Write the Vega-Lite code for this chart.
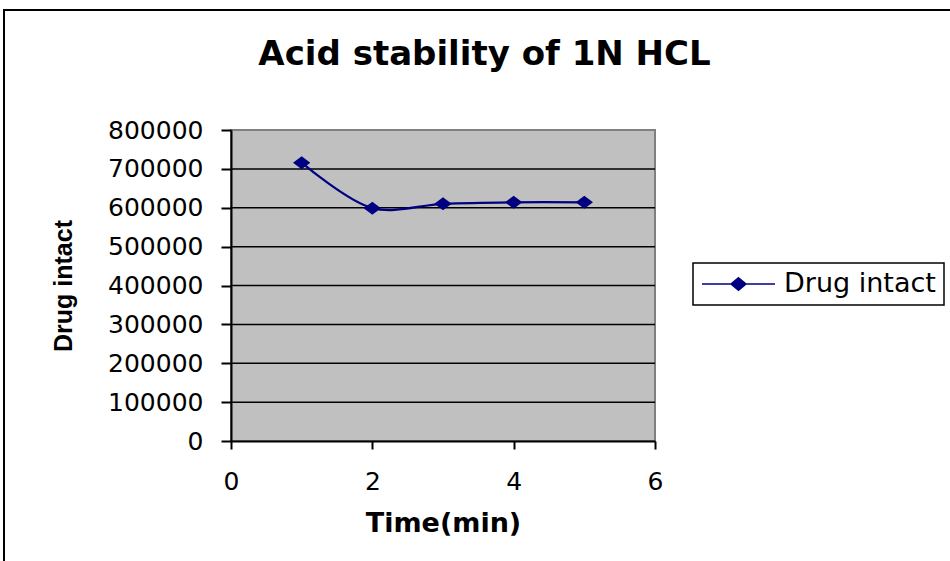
{
  "$schema": "https://vega.github.io/schema/vega-lite/v6.json",
  "width": 947,
  "height": 552,
  "autosize": {"type": "none"},
  "padding": {"left": 4, "top": 10, "right": -1, "bottom": -1},
  "background": "white",
  "config": {
    "view": {"stroke": "black", "strokeWidth": 2},
    "font": "DejaVu Sans",
    "legend": {"strokeWidth": 1.5}
  },
  "title": {
    "text": "Acid stability of 1N HCL",
    "font": "DejaVu Sans",
    "fontSize": 34,
    "fontWeight": "bold",
    "color": "black",
    "anchor": "middle",
    "offset": -62,
    "dx": 7
  },
  "datasets": {
    "series": [
      {"time": 1, "intact": 716000, "series": "Drug intact"},
      {"time": 2, "intact": 599000, "series": "Drug intact"},
      {"time": 3, "intact": 610000, "series": "Drug intact"},
      {"time": 4, "intact": 614000, "series": "Drug intact"},
      {"time": 5, "intact": 614000, "series": "Drug intact"}
    ],
    "gridlines": [
      {"level": 100000},
      {"level": 200000},
      {"level": 300000},
      {"level": 400000},
      {"level": 500000},
      {"level": 600000},
      {"level": 700000}
    ]
  },
  "layer": [
    {
      "description": "grey plotting area",
      "data": {"values": [{"panel": "plot"}]},
      "mark": {"type": "rect", "fill": "#C0C0C0", "stroke": "#808080", "strokeWidth": 2},
      "encoding": {
        "x": {
          "datum": 0,
          "type": "quantitative",
          "title": "Time(min)",
          "scale": {"domain": [0, 6], "range": [227, 651], "nice": false, "zero": false},
          "axis": {
            "orient": "bottom",
            "offset": -121,
            "values": [0, 2, 4, 6],
            "format": "d",
            "grid": false,
            "zindex": 2,
            "domainColor": "black",
            "domainWidth": 2,
            "tickColor": "black",
            "tickWidth": 2,
            "tickSize": 8,
            "labelFont": "DejaVu Sans",
            "labelFontSize": 25,
            "labelColor": "black",
            "labelPadding": 20,
            "labelFlush": false,
            "titleFont": "DejaVu Sans",
            "titleFontSize": 27,
            "titleFontWeight": "bold",
            "titleColor": "black",
            "titleBaseline": "alphabetic",
            "titleY": 90
          }
        },
        "x2": {"datum": 6},
        "y": {
          "datum": 0,
          "type": "quantitative",
          "title": "Drug intact",
          "scale": {"domain": [0, 800000], "range": [431, 120], "nice": false},
          "axis": {
            "orient": "left",
            "offset": -227,
            "values": [0, 100000, 200000, 300000, 400000, 500000, 600000, 700000, 800000],
            "format": "d",
            "grid": false,
            "zindex": 2,
            "domainColor": "black",
            "domainWidth": 2,
            "tickColor": "black",
            "tickWidth": 2,
            "tickSize": 10,
            "labelFont": "DejaVu Sans",
            "labelFontSize": 25,
            "labelColor": "black",
            "labelPadding": 18,
            "labelFlush": false,
            "titleFont": "Liberation Sans",
            "titleFontSize": 25,
            "titleFontWeight": 900,
            "titleColor": "black",
            "titleBaseline": "alphabetic",
            "titleAngle": -90,
            "titleX": -160
          }
        },
        "y2": {"datum": 800000}
      }
    },
    {
      "description": "horizontal reference lines",
      "data": {"name": "gridlines"},
      "mark": {"type": "rule", "color": "black", "strokeWidth": 1.5},
      "encoding": {
        "y": {"field": "level", "type": "quantitative", "title": "Drug intact"},
        "x": {"datum": 0, "type": "quantitative", "title": "Time(min)"},
        "x2": {"datum": 6}
      }
    },
    {
      "data": {"name": "series"},
      "mark": {"type": "line", "interpolate": "catmull-rom", "strokeWidth": 2.2},
      "encoding": {
        "x": {"field": "time", "type": "quantitative", "title": "Time(min)"},
        "y": {"field": "intact", "type": "quantitative", "title": "Drug intact"},
        "color": {
          "field": "series",
          "type": "nominal",
          "scale": {"range": ["#000080"]},
          "legend": {
            "title": null,
            "orient": "none",
            "legendX": 689,
            "legendY": 253,
            "symbolType": "M-1,0H1M0,-0.17L0.205,0L0,0.17L-0.205,0Z",
            "symbolSize": 5329,
            "symbolStrokeWidth": 1.5,
            "symbolFillColor": "#000080",
            "symbolStrokeColor": "#000080",
            "labelFont": "DejaVu Sans",
            "labelFontSize": 27,
            "labelColor": "black",
            "labelOffset": 8,
            "padding": 8,
            "clipHeight": 26,
            "strokeColor": "black",
            "encode": {
              "symbols": {"update": {"fill": {"value": "#000080"}, "stroke": {"value": "#000080"}}}
            }
          }
        }
      }
    },
    {
      "data": {"name": "series"},
      "mark": {
        "type": "point",
        "shape": "M-1,0L0,-0.75L1,0L0,0.75Z",
        "filled": true,
        "color": "#000080",
        "opacity": 1,
        "size": 300
      },
      "encoding": {
        "x": {"field": "time", "type": "quantitative", "title": "Time(min)"},
        "y": {"field": "intact", "type": "quantitative", "title": "Drug intact"}
      }
    }
  ]
}
